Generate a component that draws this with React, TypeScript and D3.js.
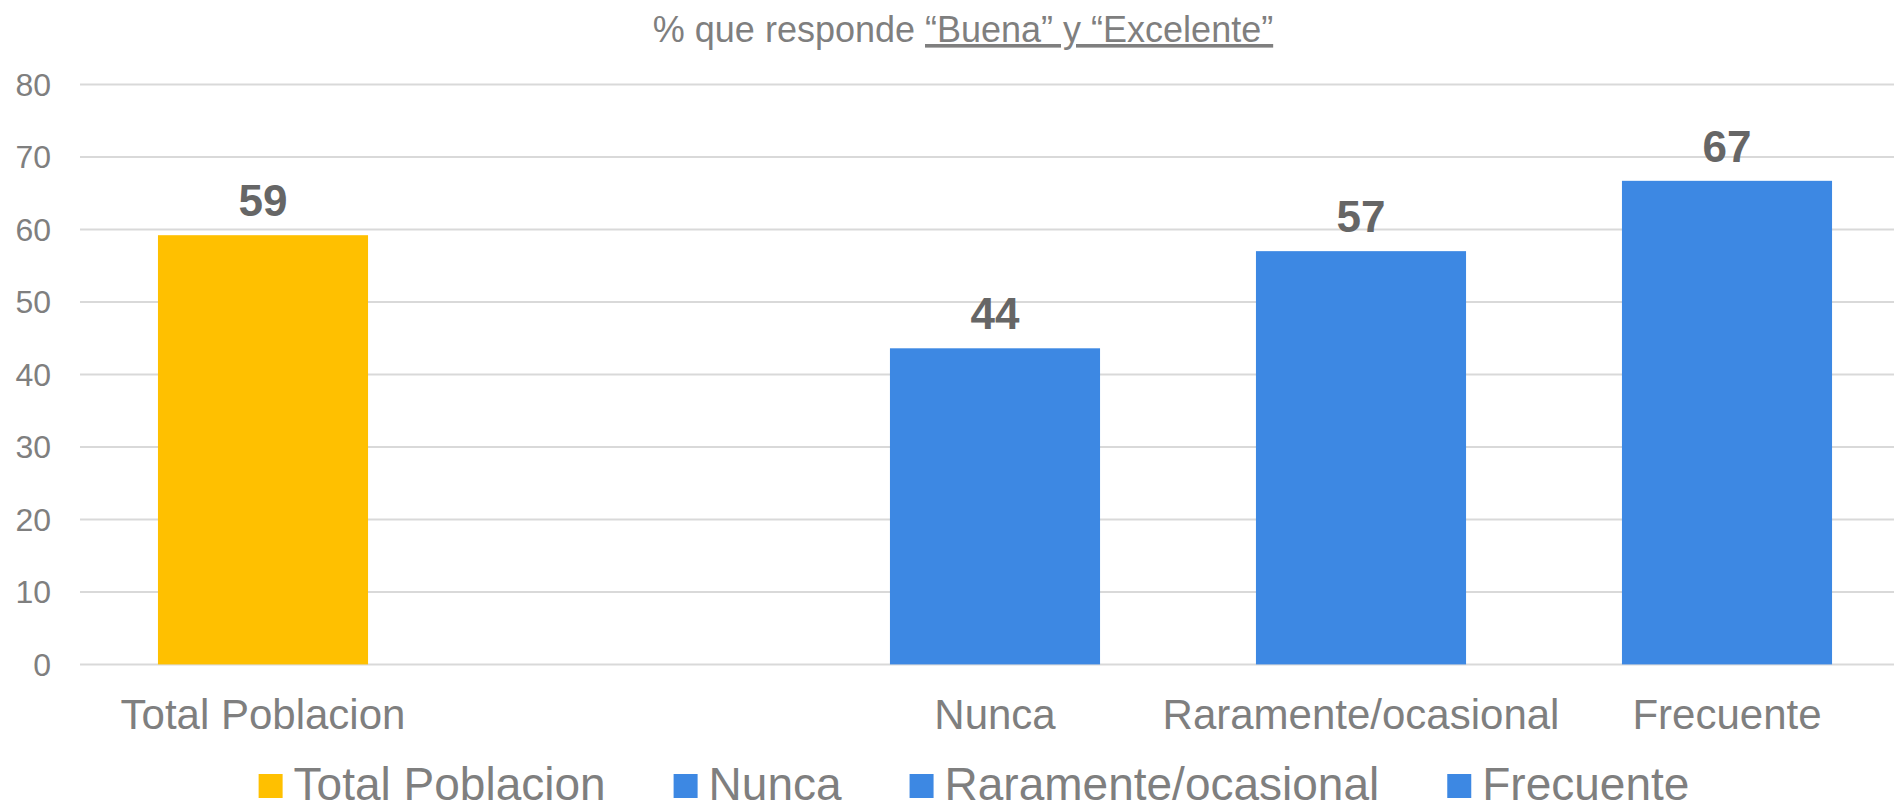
import { useEffect, useRef } from "react";
import * as d3 from "d3";

const categories = ["Total Poblacion", "", "Nunca", "Raramente/ocasional", "Frecuente"];
const values = [59.2, null, 43.6, 57.0, 66.7];
const barColors = ["#FFC000", null, "#3D88E3", "#3D88E3", "#3D88E3"];
const yTicks = [0, 10, 20, 30, 40, 50, 60, 70, 80];
const legendItems = ["Total Poblacion", "Nunca", "Raramente/ocasional", "Frecuente"];
const legendColors = ["#FFC000", "#3D88E3", "#3D88E3", "#3D88E3"];

const FONT = "'Liberation Sans', Arial, sans-serif";

export default function App() {
  const svgRef = useRef<SVGSVGElement | null>(null);

  useEffect(() => {
    document.body.style.margin = "0";
    const width = 1894;
    const height = 805;

    const svg = d3.select(svgRef.current).attr("width", width).attr("height", height);
    svg.selectAll("*").remove();

    const x = d3
      .scaleBand()
      .domain(categories)
      .range([80, 1910])
      .paddingInner(0.426)
      .paddingOuter(0.213);

    const y = d3.scaleLinear().domain([0, 80]).range([664.4, 84.4]);

    // gridlines
    svg
      .selectAll("line.grid")
      .data(yTicks)
      .enter()
      .append("line")
      .attr("x1", 80)
      .attr("x2", width)
      .attr("y1", (d) => y(d))
      .attr("y2", (d) => y(d))
      .attr("stroke", "#d9d9d9")
      .attr("stroke-width", 2);

    // y tick labels
    svg
      .selectAll("text.ytick")
      .data(yTicks)
      .enter()
      .append("text")
      .attr("x", 51)
      .attr("y", (d) => y(d))
      .attr("dy", "0.35em")
      .attr("text-anchor", "end")
      .attr("font-family", FONT)
      .attr("font-size", 32)
      .attr("fill", "#7f7f7f")
      .text((d) => d);

    const bars = categories
      .map((c, i) => ({ c, v: values[i], color: barColors[i] }))
      .filter((d) => d.v !== null);

    svg
      .selectAll("rect.bar")
      .data(bars)
      .enter()
      .append("rect")
      .attr("x", (d) => x(d.c)!)
      .attr("width", x.bandwidth())
      .attr("y", (d) => y(d.v as number))
      .attr("height", (d) => y(0) - y(d.v as number))
      .attr("fill", (d) => d.color as string);

    // value labels
    svg
      .selectAll("text.value")
      .data(bars)
      .enter()
      .append("text")
      .attr("x", (d) => x(d.c)! + x.bandwidth() / 2)
      .attr("y", (d) => y(d.v as number) - 19)
      .attr("text-anchor", "middle")
      .attr("font-family", FONT)
      .attr("font-size", 44)
      .attr("font-weight", "bold")
      .attr("fill", "#666666")
      .text((d) => Math.round(d.v as number));

    // category labels
    svg
      .selectAll("text.xlabel")
      .data(bars)
      .enter()
      .append("text")
      .attr("x", (d) => x(d.c)! + x.bandwidth() / 2)
      .attr("y", 729)
      .attr("text-anchor", "middle")
      .attr("font-family", FONT)
      .attr("font-size", 42)
      .attr("fill", "#7f7f7f")
      .text((d) => d.c);

    // title
    const title = svg
      .append("text")
      .attr("x", 963)
      .attr("y", 42)
      .attr("text-anchor", "middle")
      .attr("font-family", FONT)
      .attr("font-size", 36)
      .attr("fill", "#7f7f7f");
    title.append("tspan").text("% que responde ");
    title
      .append("tspan")
      .style("text-decoration", "underline")
      .text("“Buena” y “Excelente”");

    // legend
    const lg = svg.append("g");
    let cx = 0;
    legendItems.forEach((name, i) => {
      const item = lg.append("g").attr("transform", `translate(${cx},0)`);
      item
        .append("rect")
        .attr("x", 0)
        .attr("y", 774)
        .attr("width", 24)
        .attr("height", 24)
        .attr("fill", legendColors[i]);
      const t = item
        .append("text")
        .attr("x", 35)
        .attr("y", 800)
        .attr("font-family", FONT)
        .attr("font-size", 46)
        .attr("fill", "#7f7f7f")
        .text(name);
      const w = (t.node() as SVGTextElement).getComputedTextLength();
      cx += 35 + w + 68;
    });
    const total = cx - 68;
    lg.attr("transform", `translate(${974 - total / 2},0)`);
  }, []);

  return <svg ref={svgRef} style={{ display: "block" }}></svg>;
}
